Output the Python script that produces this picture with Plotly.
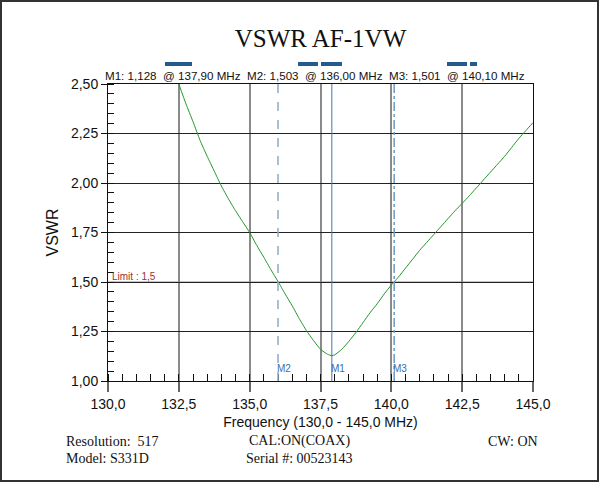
import plotly.graph_objects as go

# sweep (MHz, VSWR)
freq = [132.50, 132.75, 133.00, 133.25, 133.50, 133.75, 134.00, 134.25, 134.50,
        134.75, 135.00, 135.25, 135.50, 135.75, 136.00, 136.25, 136.50, 136.75,
        137.00, 137.25, 137.50, 137.75, 137.90, 138.00, 138.25, 138.50, 138.75,
        139.00, 139.25, 139.50, 139.75, 140.00, 140.10, 140.25, 140.50, 140.75,
        141.00, 141.25, 141.50, 141.75, 142.00, 142.25, 142.50, 142.75, 143.00,
        143.25, 143.50, 143.75, 144.00, 144.25, 144.50, 144.75, 145.00]
vswr = [2.500, 2.400, 2.310, 2.215, 2.135, 2.060, 1.985, 1.920, 1.860,
        1.805, 1.750, 1.685, 1.625, 1.562, 1.503, 1.440, 1.380, 1.315,
        1.255, 1.205, 1.160, 1.135, 1.128, 1.132, 1.160, 1.200, 1.245,
        1.295, 1.345, 1.390, 1.440, 1.485, 1.501, 1.525, 1.570, 1.615,
        1.660, 1.700, 1.740, 1.780, 1.820, 1.860, 1.897, 1.935, 1.975,
        2.015, 2.055, 2.095, 2.135, 2.180, 2.225, 2.265, 2.305]

marker_names = ["M1", "M2", "M3"]
marker_freq = [137.90, 136.00, 140.10]
marker_vswr = [1.128, 1.503, 1.501]
marker_dash = ["solid", "dash", "dashdot"]
marker_color = ["#3f78b4", "#8fabc9", "#6b98c4"]

limit = 1.5
x_ticks = [130.0, 132.5, 135.0, 137.5, 140.0, 142.5, 145.0]
y_ticks = [1.00, 1.25, 1.50, 1.75, 2.00, 2.25, 2.50]

W, H = 599, 482
L, R, T, B = 108, 66, 84, 101
PW, PH = W - L - R, H - T - B


def px(x):
    return (x - L) / PW


def py(y):
    return 1 - (y - T) / PH


def comma(v, n):
    return f"{v:.{n}f}".replace(".", ",")


fig = go.Figure()

fig.add_trace(go.Scatter(
    x=freq, y=vswr, mode="lines",
    line=dict(color="#22962a", width=1, shape="spline", smoothing=0.5),
    hoverinfo="skip", showlegend=False))

# limit line
fig.add_hline(y=limit, line=dict(color="#e39a9a", width=1.5), layer="below")

# marker lines
for name, f, d, c in zip(marker_names, marker_freq, marker_dash, marker_color):
    fig.add_shape(type="line", xref="x", yref="paper", x0=f, x1=f, y0=0, y1=1,
                  line=dict(color=c, width=1.5 if d != "solid" else 1, dash=d))
    fig.add_annotation(x=f, y=1.065, xref="x", yref="y", text=name,
                       showarrow=False, xanchor="left", xshift=-3,
                       font=dict(family="Liberation Sans", size=10, color="#3a6ea8"))

fig.add_annotation(x=px(110), y=limit, xref="paper", yref="y",
                   text="Limit : " + comma(limit, 1), showarrow=False,
                   xanchor="left", yanchor="bottom", yshift=-2,
                   font=dict(family="Liberation Sans", size=10, color="#a03030"))

# marker readouts above the plot
head_x = [103, 245, 387]
for name, f, v, hx in zip(marker_names, marker_freq, marker_vswr, head_x):
    fig.add_annotation(
        x=px(hx), y=py(76), xref="paper", yref="paper", showarrow=False,
        xanchor="left", yanchor="middle",
        text=f"{name}: {comma(v, 3)}&nbsp;&nbsp;@ {comma(f, 2)} MHz",
        font=dict(family="Liberation Sans", size=11.6, color="#111"))

# small highlight bars over the readout
bars = [(165, 192), (298, 318), (321, 342), (447, 467), (470, 477)]
for x0, x1 in bars:
    fig.add_shape(type="rect", xref="paper", yref="paper",
                  x0=px(x0), x1=px(x1), y0=py(66), y1=py(62),
                  fillcolor="#255a8c", line_width=0)

# footer
footer = [
    ("Resolution:&nbsp;&nbsp;517", 64, 441, "left"),
    ("Model: S331D", 64, 458, "left"),
    ("CAL:ON(COAX)", 247, 441, "left"),
    ("Serial #: 00523143", 244, 458, "left"),
    ("CW: ON", 540, 441, "right"),
]
for txt, fx, fy, anc in footer:
    fig.add_annotation(x=px(fx), y=py(fy), xref="paper", yref="paper",
                       text=txt, showarrow=False, xanchor=anc, yanchor="middle",
                       font=dict(family="Liberation Serif", size=14, color="#111"))

# outer frame
fig.add_shape(type="rect", xref="paper", yref="paper",
              x0=px(1), x1=px(W - 1), y0=py(H - 1), y1=py(1),
              line=dict(color="#333", width=2))

fig.update_layout(
    width=W, height=H,
    margin=dict(l=L, r=R, t=T, b=B),
    paper_bgcolor="white", plot_bgcolor="white",
    separators=",.",
    title=dict(text="VSWR AF-1VW", x=0.5, xref="paper", y=1 - 38 / H,
               yanchor="middle",
               font=dict(family="Liberation Serif", size=25, color="#111")),
    font=dict(family="Liberation Sans", color="#111"),
)

fig.update_xaxes(
    range=[130, 145], tickvals=x_ticks, tickformat=".1f",
    showgrid=True, gridcolor="#8a8a8a", gridwidth=2,
    showline=True, linecolor="#111", linewidth=1, mirror=True,
    ticks="outside", ticklen=10, tickwidth=2, tickcolor="#666",
    tickfont=dict(size=14),
    minor=dict(ticks="inside", dtick=0.5, ticklen=7, tickcolor="#111",
               tickwidth=1, showgrid=False),
    title=dict(text="Frequency (130,0 - 145,0 MHz)", font=dict(size=14),
               standoff=6),
    zeroline=False,
)
fig.update_yaxes(
    range=[1.0, 2.5], tickvals=y_ticks, tickformat=".2f",
    showgrid=True, gridcolor="#222", gridwidth=1,
    showline=True, linecolor="#111", linewidth=1, mirror=True,
    ticks="outside", ticklen=6, tickcolor="#111",
    tickfont=dict(size=14),
    minor=dict(ticks="inside", dtick=0.05, ticklen=6, tickcolor="#111",
               tickwidth=1, showgrid=False),
    title=dict(text="VSWR", font=dict(size=16), standoff=8),
    zeroline=False,
)

fig.write_html("out.html", config={"displayModeBar": False},
               post_script="document.body.style.margin='0';")
